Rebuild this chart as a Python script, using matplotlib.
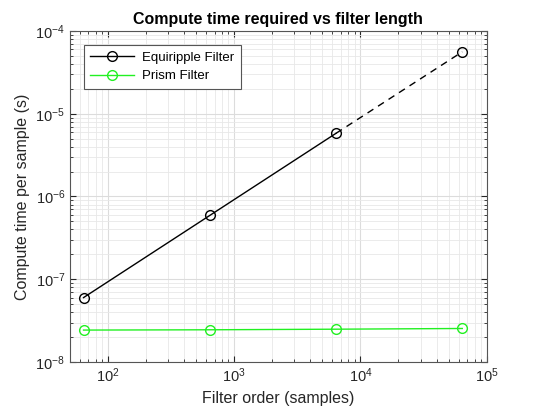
import numpy as np
import matplotlib
matplotlib.use('Agg')
from matplotlib import pyplot as plt

# filter order (samples)
filter_order = [64, 640, 6400, 64000]
# compute time per sample (s)
equiripple_time = [6.0e-8, 5.9e-7, 5.8e-6, 5.6e-5]
prism_time = [2.43e-8, 2.45e-8, 2.49e-8, 2.54e-8]

plt.rcParams['font.family'] = ['Liberation Sans', 'DejaVu Sans']
plt.rcParams['mathtext.fontset'] = 'custom'
plt.rcParams['mathtext.rm'] = 'Liberation Sans'
plt.rcParams['mathtext.it'] = 'Liberation Sans'

axcol = '#262626'
green = '#22f022'

fig = plt.figure(figsize=(5.36, 4.12), dpi=100)
ax = fig.add_axes([0.1306, 0.1214, 0.7775, 0.8034])

# measured part solid, extrapolated last point dashed
ax.plot(filter_order[:3], equiripple_time[:3], '-o', color='black', lw=1.0,
        mfc='none', ms=7, mew=1.0, label='Equiripple Filter')
ax.plot(filter_order[2:], equiripple_time[2:], '--o', color='black', lw=1.0,
        mfc='none', ms=7, mew=1.0, dashes=(5, 4), markevery=[1])
ax.plot(filter_order, prism_time, '-o', color=green, lw=1.0,
        mfc='none', ms=7, mew=1.0, label='Prism Filter')

ax.set_xscale('log')
ax.set_yscale('log')
ax.set_xlim(50, 1e5)
ax.set_ylim(1e-8, 1e-4)

ax.grid(True, which='major', color='#dcdcdc', lw=0.8)
ax.grid(True, which='minor', color='#e8e8e8', lw=0.6)
ax.set_axisbelow(True)

ax.tick_params(which='both', direction='in', top=True, right=True, colors=axcol,
               labelsize=10.5)
ax.tick_params(which='major', length=4)
ax.tick_params(which='minor', length=2)
for s in ax.spines.values():
    s.set_color('#555555')
    s.set_linewidth(0.8)

ax.set_title('Compute time required vs filter length', fontsize=11.5, fontweight='bold',
             color='black', pad=5)
ax.set_xlabel('Filter order (samples)', fontsize=11.5, color=axcol)
ax.set_ylabel('Compute time per sample (s)', fontsize=11.5, color=axcol)

leg = ax.legend(loc='upper left', bbox_to_anchor=(0.033, 0.957), fontsize=9.5,
                fancybox=False, framealpha=1, edgecolor='#555555', borderpad=0.5,
                handlelength=3.3, handletextpad=0.6, labelspacing=0.45,
                borderaxespad=0)
leg.get_frame().set_linewidth(0.8)

fig.savefig('out.png', dpi=100)
